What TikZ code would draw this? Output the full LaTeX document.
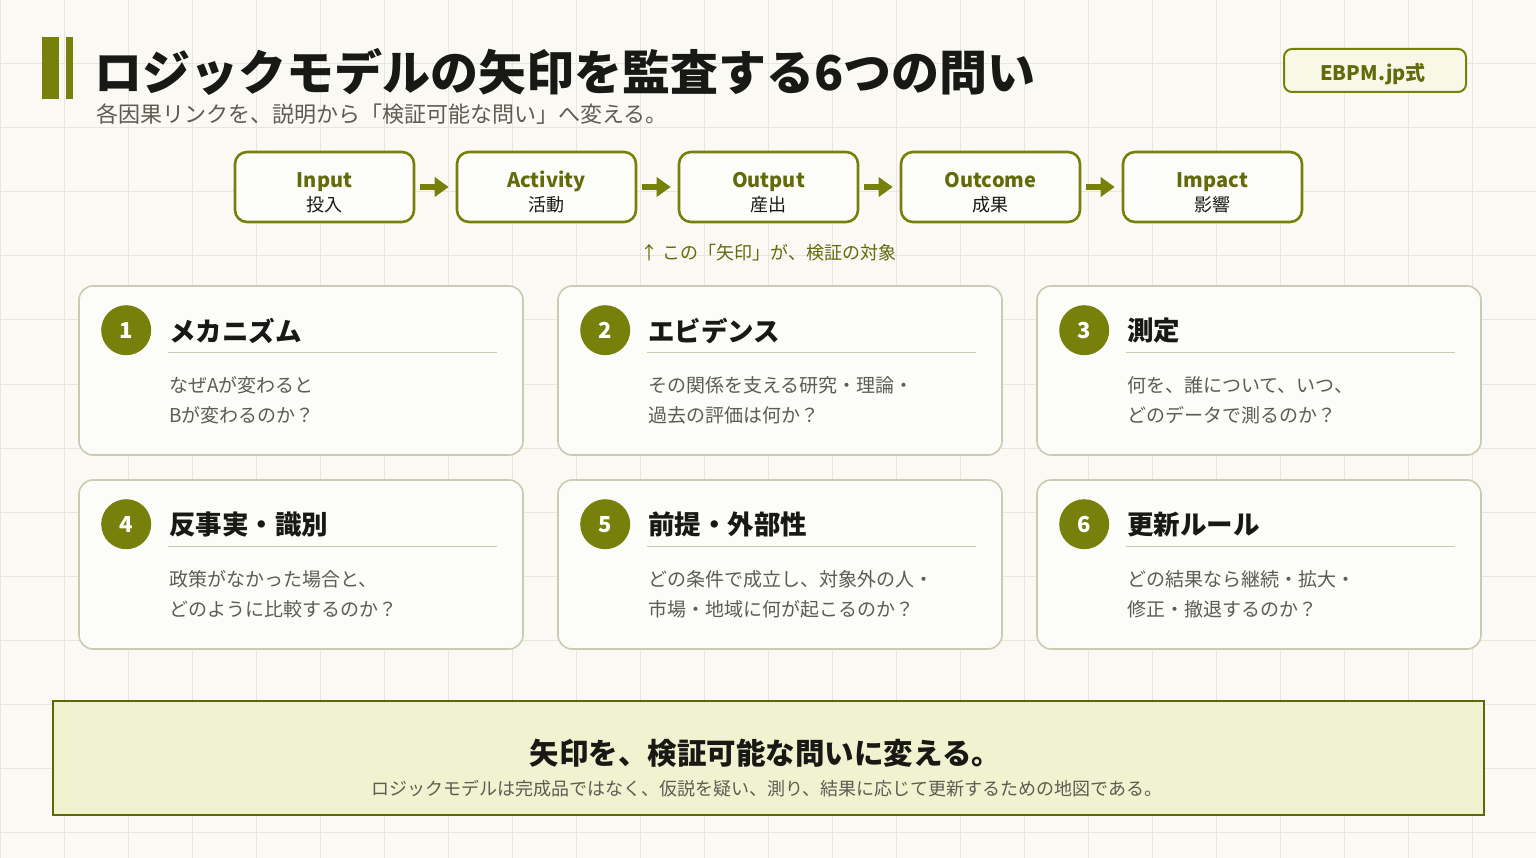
\documentclass[tikz,border=0pt]{standalone}
\usepackage{fontspec}
\setmainfont{Noto Sans CJK JP}
\usepackage{tikz}
\usetikzlibrary{arrows.meta, positioning, calc}
\usepackage{xcolor}
\definecolor{paper}{RGB}{250,249,244}
\definecolor{gridline}{RGB}{232,230,221}
\definecolor{olive}{RGB}{120,128,12}
\definecolor{olivetext}{RGB}{98,106,12}
\definecolor{oliveedge}{RGB}{94,104,0}
\definecolor{cardedge}{RGB}{202,203,178}
\definecolor{cardfill}{RGB}{252,252,248}
\definecolor{notefill}{RGB}{240,242,208}
\definecolor{ink}{RGB}{24,24,20}
\definecolor{muted}{RGB}{92,92,82}

\begin{document}
\begin{tikzpicture}[x=1pt, y=-1pt,
  stage/.style={draw=olive, line width=2.6pt, rounded corners=12pt, fill=cardfill,
    minimum width=179pt, minimum height=70pt, inner sep=0pt},
  stagename/.style={inner sep=0pt, text height=15pt, text depth=5pt, text=olivetext,
    font=\fontsize{20}{20}\selectfont\bfseries},
  stagejp/.style={inner sep=0pt, text=ink, font=\fontsize{18}{18}\selectfont},
  flow/.style={-{Triangle[length=14pt, width=19pt]}, olive, line width=6pt},
  card/.style={draw=cardedge, line width=1.6pt, rounded corners=14pt, fill=cardfill,
    minimum width=444pt, minimum height=169pt},
  badge/.style={circle, fill=olive, minimum size=50pt, inner sep=0pt, text=white,
    font=\fontsize{22}{22}\selectfont\bfseries},
  cardhead/.style={anchor=west, inner sep=0pt, text=ink, font=\fontsize{26.5}{26.5}\selectfont\bfseries},
  cardbody/.style={anchor=west, inner sep=0pt, text=muted, font=\fontsize{19}{19}\selectfont}]

  \useasboundingbox (0,0) rectangle (1536,858);
  \fill[paper] (0,0) rectangle (1536,858);
  \foreach \g in {0,64,...,1536}
    \draw[gridline, line width=1pt] (\g,0) -- (\g,858);
  \foreach \g in {0,64,...,858}
    \draw[gridline, line width=1pt] (0,\g) -- (1536,\g);

  % header
  \fill[olive] (42,37) rectangle (59,99);
  \fill[olive] (66,37) rectangle (73,99);
  \node[anchor=west, inner sep=0pt, text=ink, font=\fontsize{48}{48}\selectfont\bfseries] (title) at (94,72)
    {ロジックモデルの矢印を監査する6つの問い};
  \node[anchor=west, inner sep=0pt, text=muted, font=\fontsize{22}{22}\selectfont] (subtitle) at (96,114)
    {各因果リンクを、説明から「検証可能な問い」へ変える。};
  \node[draw=olive, line width=2pt, rounded corners=8pt, fill=notefill!45!cardfill,
    minimum width=182pt, minimum height=43pt] (tag) at (1375,70.5) {};
  \node[inner sep=0pt, text=olivetext, font=\fontsize{20}{20}\selectfont\bfseries] (tagtext) at (1373,74) {EBPM.jp式};

  % chain
  \foreach \i/\id/\en/\jp in {0/input/Input/投入, 1/activity/Activity/活動, 2/output/Output/産出,
      3/outcome/Outcome/成果, 4/impact/Impact/影響} {
    \node[stage] (\id) at ({324.5+222*\i},187) {};
    \node[stagename] (\id en) at ({324.5+222*\i},182.5) {\en};
    \node[stagejp] (\id jp) at ({324.5+222*\i},205) {\jp};
  }
  \foreach \a/\b in {input/activity, activity/output, output/outcome, outcome/impact}
    \draw[flow, shorten <=5pt, shorten >=7pt] (\a) -- (\b);
  \node[below=21pt of output, inner sep=0pt, text=olivetext, font=\fontsize{18}{18}\selectfont] (hint)
    {↑ この「矢印」が、検証の対象};

  % question cards
  \foreach \n/\col/\row/\head/\la/\lb in {
      1/0/0/メカニズム/なぜAが変わると/Bが変わるのか？,
      2/1/0/エビデンス/その関係を支える研究・理論・/過去の評価は何か？,
      3/2/0/測定/何を、誰について、いつ、/どのデータで測るのか？,
      4/0/1/反事実・識別/政策がなかった場合と、/どのように比較するのか？,
      5/1/1/前提・外部性/どの条件で成立し、対象外の人・/市場・地域に何が起こるのか？,
      6/2/1/更新ルール/どの結果なら継続・拡大・/修正・撤退するのか？} {
    \node[card] (card\n) at ({301+479*\col},{370.5+194*\row}) {};
    \node[badge] (num\n) at ($(card\n.north west)+(48,45)$) {\n};
    \node[cardhead] (head\n) at ($(card\n.north west)+(91,45.5)$) {\head};
    \draw[cardedge, line width=1.2pt] ($(card\n.north west)+(90,67)$) -- ($(card\n.north east)+(-27,67)$);
    \node[cardbody] (la\n) at ($(card\n.north west)+(91,100)$) {\la};
    \node[cardbody] (lb\n) at ($(card\n.north west)+(91,130)$) {\lb};
  }

  % takeaway
  \node[draw=oliveedge, line width=2pt, fill=notefill, minimum width=1431pt, minimum height=114pt] (note) at (768.5,758) {};
  \node[inner sep=0pt, text=ink, font=\fontsize{29.5}{29.5}\selectfont\bfseries] (notehead) at (765.5,753)
    {矢印を、検証可能な問いに変える。};
  \node[inner sep=0pt, text=muted, font=\fontsize{18}{18}\selectfont] (notebody) at (767,789)
    {ロジックモデルは完成品ではなく、仮説を疑い、測り、結果に応じて更新するための地図である。};
\end{tikzpicture}
\end{document}
